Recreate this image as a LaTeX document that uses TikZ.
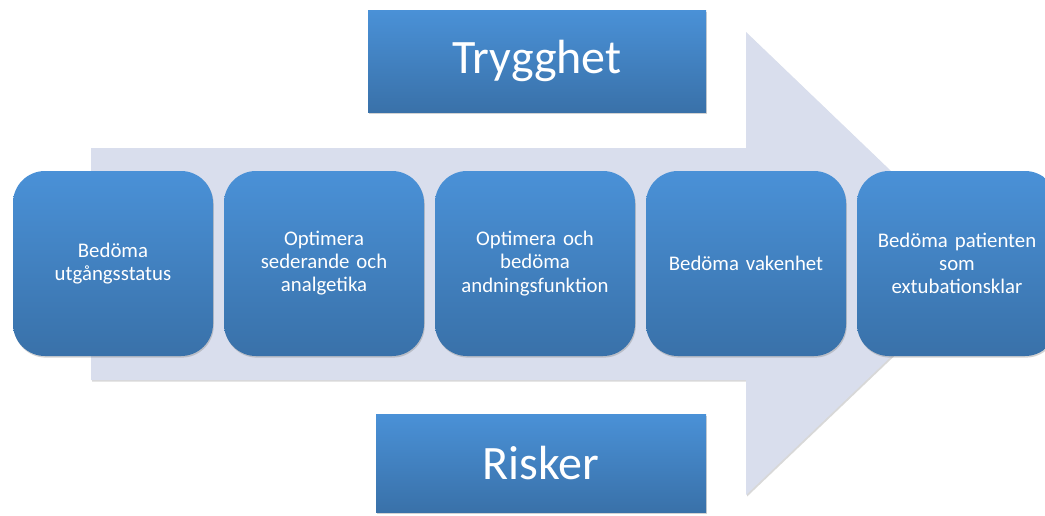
\documentclass[tikz,border=0pt]{standalone}
\usepackage{fontspec}
\setmainfont{Carlito}
\usetikzlibrary{shadows}
\definecolor{boxtop}{RGB}{74,145,215}
\definecolor{boxbot}{RGB}{57,113,169}
\definecolor{arrowfill}{RGB}{217,222,237}
\tikzset{
  px/.style={x=0.75pt,y=-0.75pt},
  bluebox/.style={top color=boxtop,bottom color=boxbot,draw=none,
    drop shadow={opacity=0.35,shadow xshift=0.6pt,shadow yshift=-1.2pt}},
  stepbox/.style={bluebox,rounded corners=24pt,minimum width=150pt,minimum height=138.75pt,
    text width=145pt,align=center,text=white,font=\fontsize{15.6}{17.3}\selectfont,inner sep=0pt},
  titlebox/.style={bluebox,minimum width=253.5pt,text=white,
    font=\fontsize{36}{40}\selectfont,inner sep=0pt}
}
\begin{document}
\begin{tikzpicture}[px]
\clip (0,0) rectangle (1045,515);
\fill[white] (0,0) rectangle (1045,515);
\fill[arrowfill,drop shadow={opacity=0.3,shadow xshift=0.8pt,shadow yshift=-1.2pt}]
  (91,148) -- (746,148) -- (746,32) -- (988,264) -- (746,495) -- (746,380) -- (91,380) -- cycle;
\node[titlebox,minimum height=76.5pt] (top) at (537,61) {Trygghet};
\node[titlebox,minimum width=247.5pt,minimum height=73.5pt] (bot) at (541,463) {Risker};
\node[stepbox] (s1) at (113,263.5) {Bedöma\\utgångsstatus};
\node[stepbox] (s2) at (324,263.5) {Optimera\\sederande och\\analgetika};
\node[stepbox] (s3) at (535,263.5) {Optimera och\\bedöma\\andningsfunktion};
\node[stepbox] (s4) at (746,263.5) {Bedöma vakenhet};
\node[stepbox] (s5) at (957,263.5) {Bedöma patienten\\som\\extubationsklar};
\end{tikzpicture}
\end{document}
